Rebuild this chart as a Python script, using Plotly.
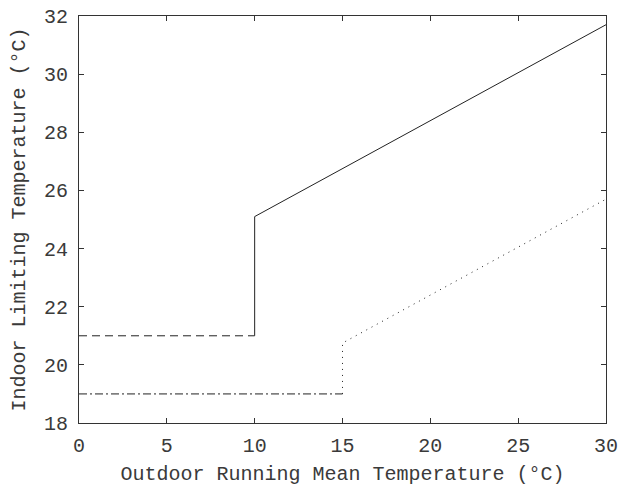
import plotly.graph_objects as go

# Data
dashed_x = [0, 10]
dashed_y = [21, 21]
solid_x = [10, 10, 30]
solid_y = [21, 25.1, 31.7]
dashdot_x = [0, 15]
dashdot_y = [19, 19]
dotted_x = [15, 15, 30]
dotted_y = [19, 20.75, 25.7]

x_ticks = [0, 5, 10, 15, 20, 25, 30]
y_ticks = [18, 20, 22, 24, 26, 28, 30, 32]

FONT = "Courier New, Liberation Mono, monospace"
LC = "#222222"
FS = 20

fig = go.Figure()
fig.add_trace(go.Scatter(x=dashed_x, y=dashed_y, mode="lines",
                         line=dict(color=LC, width=1, dash="8px,5px")))
fig.add_trace(go.Scatter(x=solid_x, y=solid_y, mode="lines",
                         line=dict(color=LC, width=1)))
fig.add_trace(go.Scatter(x=dashdot_x, y=dashdot_y, mode="lines",
                         line=dict(color=LC, width=1, dash="8px,3px,2px,3px")))
fig.add_trace(go.Scatter(x=dotted_x, y=dotted_y, mode="lines",
                         line=dict(color=LC, width=1, dash="1px,5px")))

axis_common = dict(
    showgrid=False, zeroline=False, showline=True, linecolor="#333333", linewidth=1,
    mirror="ticks", ticks="inside", ticklen=5, tickcolor="#333333",
    tickfont=dict(family=FONT, size=FS, color="#3a3a3a"),
    automargin=False, ticklabeloverflow="allow",
)

fig.update_layout(
    width=619, height=487,
    margin=dict(l=79, r=13, t=16, b=64),
    paper_bgcolor="white", plot_bgcolor="white",
    showlegend=False,
    font=dict(family=FONT, size=FS, color="#3a3a3a"),
    xaxis=dict(range=[0, 30], tickvals=x_ticks, ticklabelstandoff=4,
               title=dict(text="Outdoor Running Mean Temperature (°C)",
                          font=dict(family=FONT, size=FS, color="#3a3a3a"), standoff=8),
               **axis_common),
    yaxis=dict(range=[18, 32], tickvals=y_ticks, ticklabelstandoff=6,
               title=dict(text="Indoor Limiting Temperature (°C)",
                          font=dict(family=FONT, size=FS, color="#3a3a3a"), standoff=12),
               **axis_common),
)

fig.write_html(
    "out.html",
    config={"displayModeBar": False},
    post_script="document.body.style.margin='0';document.body.style.overflow='hidden';",
)
